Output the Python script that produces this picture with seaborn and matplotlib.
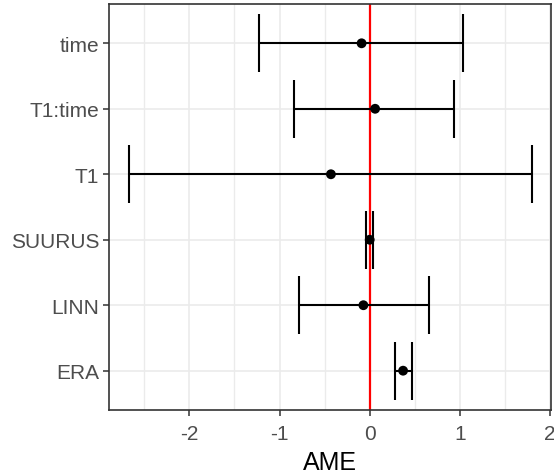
import matplotlib
matplotlib.use("Agg")
import matplotlib.pyplot as plt
import seaborn as sns
import pandas as pd

# AME estimates with confidence limits (bottom to top)
terms = ["ERA", "LINN", "SUURUS", "T1", "T1:time", "time"]
ame = [0.37, -0.07, 0.0, -0.43, 0.06, -0.09]
lower = [0.28, -0.78, -0.04, -2.67, -0.84, -1.23]
upper = [0.47, 0.66, 0.04, 1.80, 0.94, 1.03]

df = pd.DataFrame({"term": terms, "AME": ame, "lower": lower, "upper": upper})

sns.set_theme(style="whitegrid")
plt.rcParams["font.family"] = ["Liberation Sans", "DejaVu Sans"]
plt.rcParams["axes.unicode_minus"] = False

fig = plt.figure(figsize=(5.54, 4.77), dpi=100)
ax = fig.add_axes([0.1968, 0.1384, 0.7978, 0.8511])

ax.axvline(0, color="#FF0000", lw=1.6, zorder=2)
ax.errorbar(df["AME"], df["term"],
            xerr=[df["AME"] - df["lower"], df["upper"] - df["AME"]],
            fmt="none", ecolor="black", elinewidth=1.5, capsize=21, capthick=1.5, zorder=3)
sns.scatterplot(data=df, x="AME", y="term", color="black", s=50, edgecolor="none", ax=ax, zorder=4)

ax.set_xlim(-2.89, 2.01)
ax.set_ylim(-0.6, 5.6)
ax.set_xticks([-2, -1, 0, 1, 2])
ax.set_xticks([-2.5, -1.5, -0.5, 0.5, 1.5], minor=True)
ax.grid(True, which="major", color="#EBEBEB", lw=1.2)
ax.grid(True, which="minor", axis="x", color="#EBEBEB", lw=1.0)
ax.set_axisbelow(True)

for s in ax.spines.values():
    s.set_color("#333333")
    s.set_linewidth(1.2)

ax.tick_params(axis="both", which="major", length=4, width=1.1, color="#333333",
               labelsize=15, labelcolor="#4D4D4D", bottom=True, left=True)
ax.tick_params(axis="x", which="major", pad=6)
ax.tick_params(axis="y", which="major", pad=3)
ax.tick_params(axis="x", which="minor", length=0)
ax.set_xlabel("AME", fontsize=18, color="black", labelpad=5)
ax.set_ylabel("")

fig.savefig("out.png", dpi=100)
